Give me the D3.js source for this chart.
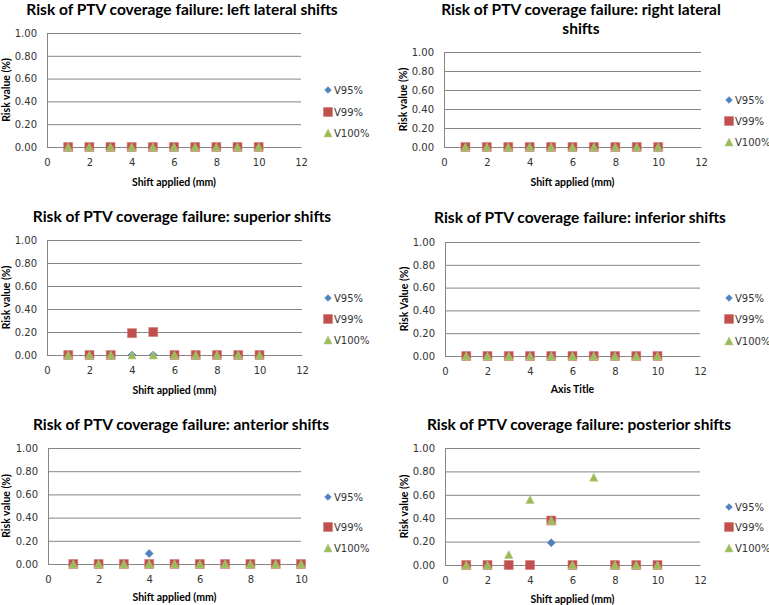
<!DOCTYPE html>
<html>
<head>
<meta charset="utf-8">
<script src="https://cdn.jsdelivr.net/npm/d3@7"></script>
<style>
  html, body { margin: 0; padding: 0; background: #ffffff; }
  svg { display: block; }
</style>
</head>
<body>
<svg id="chart" width="769" height="605"></svg>
<script>
// ---------------- DATA ----------------
const shifts = [1, 2, 3, 4, 5, 6, 7, 8, 9, 10];
const seriesNames = ["V95%", "V99%", "V100%"];
const yTicks = [0, 0.2, 0.4, 0.6, 0.8, 1.0];
const xTicks12 = [0, 2, 4, 6, 8, 10, 12];
const xTicks10 = [0, 2, 4, 6, 8, 10];

const panelTitles = [
  ["Risk of PTV coverage failure: left lateral shifts"],
  ["Risk of PTV coverage failure: right lateral", "shifts"],
  ["Risk of PTV coverage failure: superior shifts"],
  ["Risk of PTV coverage failure: inferior shifts"],
  ["Risk of PTV coverage failure: anterior shifts"],
  ["Risk of PTV coverage failure: posterior shifts"]
];
const xAxisTitles = ["Shift applied (mm)", "Shift applied (mm)", "Shift applied (mm)", "Axis Title", "Shift applied (mm)", "Shift applied (mm)"];
const yAxisTitles = ["Risk value (%)", "Risk value (%)", "Risk value (%)", "Risk Value (%)", "Risk value (%)", "Risk value (%)"];
const xMaxes = [12, 12, 12, 12, 10, 12];

// left lateral
const leftV95  = [0, 0, 0, 0, 0, 0, 0, 0, 0, 0];
const leftV99  = [0, 0, 0, 0, 0, 0, 0, 0, 0, 0];
const leftV100 = [0, 0, 0, 0, 0, 0, 0, 0, 0, 0];
// right lateral
const rightV95  = [0, 0, 0, 0, 0, 0, 0, 0, 0, 0];
const rightV99  = [0, 0, 0, 0, 0, 0, 0, 0, 0, 0];
const rightV100 = [0, 0, 0, 0, 0, 0, 0, 0, 0, 0];
// superior
const supV95  = [0, 0, 0, 0, 0, 0, 0, 0, 0, 0];
const supV99  = [0, 0, 0, 0.19, 0.20, 0, 0, 0, 0, 0];
const supV100 = [0, 0, 0, 0, 0, 0, 0, 0, 0, 0];
// inferior
const infV95  = [0, 0, 0, 0, 0, 0, 0, 0, 0, 0];
const infV99  = [0, 0, 0, 0, 0, 0, 0, 0, 0, 0];
const infV100 = [0, 0, 0, 0, 0, 0, 0, 0, 0, 0];
// anterior
const antV95  = [0, 0, 0, 0.09, 0, 0, 0, 0, 0, 0];
const antV99  = [0, 0, 0, 0, 0, 0, 0, 0, 0, 0];
const antV100 = [0, 0, 0, 0, 0, 0, 0, 0, 0, 0];
// posterior
const postV95  = [0, 0, 0, 0, 0.19, 0, null, 0, 0, 0];
const postV99  = [0, 0, 0, 0, 0.38, 0, null, 0, 0, 0];
const postV100 = [0, 0, 0.09, 0.56, 0.38, 0, 0.75, 0, 0, 0];

const panelSeries = [
  [leftV95, leftV99, leftV100],
  [rightV95, rightV99, rightV100],
  [supV95, supV99, supV100],
  [infV95, infV99, infV100],
  [antV95, antV99, antV100],
  [postV95, postV99, postV100]
];

// ---------------- LAYOUT ----------------
const layouts = [
  {L: 47,  R: 301, T: 33,  B: 147, tx: 182, ty: [9],      yt: 6,   xtY: 182, lx: 328, ly: [90, 112, 133]},
  {L: 444, R: 701, T: 52,  B: 147, tx: 581, ty: [9, 28],  yt: 403, xtY: 182, lx: 729, ly: [100, 121, 142]},
  {L: 47,  R: 302, T: 240, B: 355, tx: 182, ty: [216],    yt: 6,   xtY: 390, lx: 328, ly: [298, 319, 340]},
  {L: 445, R: 700, T: 242, B: 356, tx: 580, ty: [217],    yt: 404, xtY: 389, lx: 729, ly: [298, 319, 341]},
  {L: 48,  R: 301, T: 448, B: 564, tx: 181, ty: [424],    yt: 6,   xtY: 597, lx: 328, ly: [497, 527, 548]},
  {L: 445, R: 700, T: 448, B: 565, tx: 579, ty: [424],    yt: 404, xtY: 599, lx: 729, ly: [507, 527, 548]}
];

const colors = ["#4F81BD", "#C0504D", "#9BBB59"];
const strokeColors = ["#4A7EBB", "#D07A78", "#B5CD85"];
const gridColor = "#868686";
const titleFont = "Lato, 'Open Sans', sans-serif";
const tickFont = "'DejaVu Sans', Verdana, sans-serif";

// custom marker shapes
const diamondType = { draw(ctx, size) { const r = Math.sqrt(size) / 2; ctx.moveTo(0, -r); ctx.lineTo(r, 0); ctx.lineTo(0, r); ctx.lineTo(-r, 0); ctx.closePath(); } };
const squareType = { draw(ctx, size) { const r = Math.sqrt(size) / 2; ctx.rect(-r, -r, 2 * r, 2 * r); } };
const triangleType = { draw(ctx, size) { const w = Math.sqrt(size) / 2; const h = w * 0.95; ctx.moveTo(0, -h); ctx.lineTo(w, h); ctx.lineTo(-w, h); ctx.closePath(); } };
const shapeTypes = [diamondType, squareType, triangleType];
const shapeSizes = [64, 81, 70];

const svg = d3.select("#chart");

layouts.forEach((lay, pi) => {
  const g = svg.append("g");
  const x = d3.scaleLinear().domain([0, xMaxes[pi]]).range([lay.L, lay.R]);
  const y = d3.scaleLinear().domain([0, 1]).range([lay.B, lay.T]);

  // title
  panelTitles[pi].forEach((line, li) => {
    g.append("text")
      .attr("x", lay.tx).attr("y", lay.ty[li])
      .attr("text-anchor", "middle").attr("dominant-baseline", "central")
      .style("font-family", titleFont).style("font-weight", "bold")
      .style("font-size", "15.5px").style("fill", "#000")
      .text(line);
  });

  // y axis with gridlines
  const yAxis = d3.axisLeft(y).tickValues(yTicks).tickFormat(d3.format(".2f"))
    .tickSize(-(lay.R - lay.L)).tickPadding(10);
  const ga = g.append("g").attr("transform", `translate(${lay.L},0)`).call(yAxis);
  ga.select(".domain").attr("stroke", gridColor);
  ga.selectAll(".tick line").attr("stroke", gridColor).attr("stroke-width", 1);
  ga.selectAll(".tick text").style("font-family", tickFont).style("font-size", "10px").attr("fill", "#333");

  // x axis
  const xAxis = d3.axisBottom(x).tickValues(xMaxes[pi] === 12 ? xTicks12 : xTicks10)
    .tickSize(0).tickPadding(12).tickFormat(d3.format("d"));
  const gx = g.append("g").attr("transform", `translate(0,${lay.B})`).call(xAxis);
  gx.select(".domain").attr("stroke", gridColor);
  gx.selectAll(".tick text").style("font-family", tickFont).style("font-size", "10px").attr("fill", "#333");

  // axis titles
  g.append("text")
    .attr("x", (lay.L + lay.R) / 2).attr("y", lay.xtY)
    .attr("text-anchor", "middle").attr("dominant-baseline", "central")
    .style("font-family", titleFont).style("font-weight", "bold").style("font-size", "10.5px")
    .text(xAxisTitles[pi]);
  g.append("text")
    .attr("transform", `translate(${lay.yt},${(lay.T + lay.B) / 2}) rotate(-90)`)
    .attr("text-anchor", "middle").attr("dominant-baseline", "central")
    .style("font-family", titleFont).style("font-weight", "bold").style("font-size", "10.5px")
    .text(yAxisTitles[pi]);

  // series markers
  panelSeries[pi].forEach((vals, si) => {
    const pts = shifts.map((s, i) => ({ s, v: vals[i] })).filter(d => d.v !== null);
    g.append("g").selectAll("path").data(pts).join("path")
      .attr("transform", d => `translate(${x(d.s)},${y(d.v)})`)
      .attr("d", d3.symbol().type(shapeTypes[si]).size(shapeSizes[si]))
      .attr("fill", colors[si])
      .attr("stroke", strokeColors[si]).attr("stroke-width", 0.6);
  });

  // legend
  seriesNames.forEach((name, si) => {
    g.append("path")
      .attr("transform", `translate(${lay.lx},${lay.ly[si]})`)
      .attr("d", d3.symbol().type(shapeTypes[si]).size(si === 0 ? 45 : shapeSizes[si]))
      .attr("fill", colors[si]).attr("stroke", strokeColors[si]).attr("stroke-width", 0.6);
    g.append("text")
      .attr("x", lay.lx + 6).attr("y", lay.ly[si])
      .attr("dominant-baseline", "central")
      .style("font-family", tickFont).style("font-size", "10px").attr("fill", "#333")
      .text(name);
  });
});
</script>
</body>
</html>
